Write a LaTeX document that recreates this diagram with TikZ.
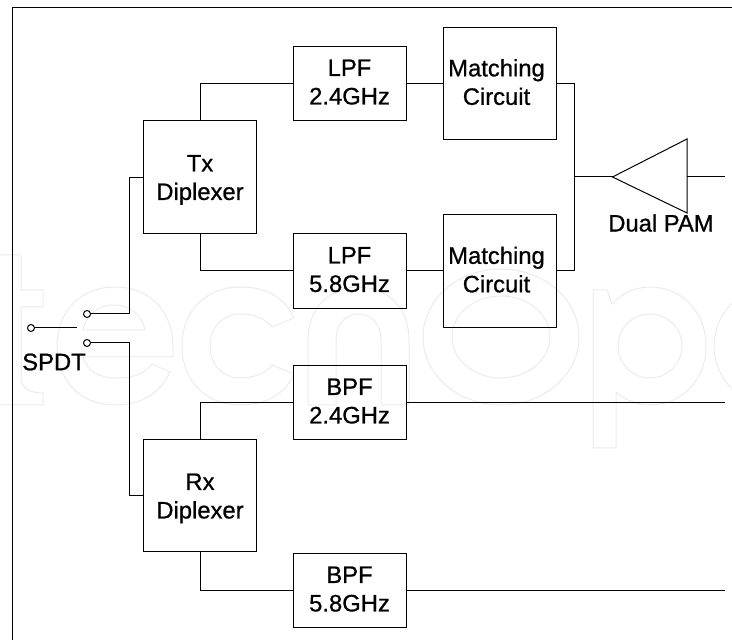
\documentclass[tikz,border=0pt]{standalone}
\usepackage{fontspec}
\setmainfont[FakeBold=0.8]{Liberation Sans}
\tikzset{
    blockbox/.style={draw,minimum width=113pt,inner sep=0pt,align=center},
    filterbox/.style={blockbox,minimum height=74.5pt,text depth=3pt},
    matchbox/.style={blockbox,minimum height=112.5pt,text depth=3pt},
    diplexbox/.style={blockbox,minimum height=113pt,text depth=-4pt},
    swpin/.style={draw,circle,minimum size=7pt,inner sep=0pt},
    ghost/.style={draw=black!8,line width=1pt}
}
\begin{document}
\begin{tikzpicture}[x=1pt,y=1pt,line width=1pt,
        every node/.append style={font=\fontsize{23.8}{28.5}\selectfont}]
        \useasboundingbox (0,0) rectangle (732,640);
        % faint lettering behind the circuit
        \begin{scope}
        \clip (0,0) rectangle (732,640);
        \draw[ghost] (0,385) -- (21,385) -- (21,350) -- (43,350) -- (43,333) -- (21,333) -- (21,262) .. controls (21,252) and (30,247) .. (43,247) -- (43,235) -- (0,235);
        \draw[ghost] (173,283) -- (83,283) .. controls (87,268) and (100,262) .. (118,262) .. controls (135,262) and (145,267) .. (152,276) -- (170,268) .. controls (160,246) and (140,235) .. (115,235) .. controls (80,235) and (57,260) .. (57,294) .. controls (57,328) and (80,353) .. (115,353) .. controls (150,353) and (173,328) .. (173,294) -- cycle;
        \draw[ghost] (83,310) -- (145,310) .. controls (142,325) and (130,335) .. (114,335) .. controls (98,335) and (86,325) .. (83,310);
        \draw[ghost] (294,322) .. controls (285,343) and (265,353) .. (240,353) .. controls (205,353) and (182,328) .. (182,294) .. controls (182,260) and (205,235) .. (240,235) .. controls (265,235) and (285,245) .. (294,266) -- (272,275) .. controls (265,266) and (253,262) .. (240,262) .. controls (222,262) and (210,276) .. (210,294) .. controls (210,312) and (222,326) .. (240,326) .. controls (253,326) and (265,322) .. (272,313) -- cycle;
        \draw[ghost] (308,235) -- (308,300) .. controls (308,332) and (330,353) .. (358,353) .. controls (388,353) and (409,332) .. (409,300) -- (409,235) -- (381,235) -- (381,300) .. controls (381,315) and (372,326) .. (358,326) .. controls (345,326) and (336,315) .. (336,300) -- (336,235) -- cycle;
        \draw[ghost] (501,303) ellipse (78 and 68);
        \draw[ghost] (501,303) ellipse (49 and 41);
        \draw[ghost] (593,192) -- (593,350) -- (607,350) -- (612,336) .. controls (622,347) and (635,353) .. (650,353) .. controls (682,353) and (706,328) .. (706,294) .. controls (706,260) and (682,235) .. (650,235) .. controls (637,235) and (625,240) .. (616,248) -- (616,192) -- cycle;
        \draw[ghost] (650,294) ellipse (32 and 32);
        \draw[ghost] (772,294) ellipse (58 and 59);
        \end{scope}
        % frame
        \coordinate (framea) at (12,0);
        \coordinate (frameb) at (12,632);
        \coordinate (framec) at (732,632);
        \draw (framea) -- (frameb) -- (framec);
        % blocks
        \node[diplexbox] (tx) at (200,462.5) {Tx\\Diplexer};
        \node[diplexbox,minimum height=112pt] (rx) at (200,144) {Rx\\Diplexer};
        \node[filterbox] (lpfa) at (349.5,556.5) {LPF\\2.4GHz};
        \node[filterbox] (lpfb) at (349.5,369) {LPF\\5.8GHz};
        \node[filterbox] (bpfa) at (349.5,237.5) {BPF\\2.4GHz};
        \node[filterbox] (bpfb) at (349.5,49.5) {BPF\\5.8GHz};
        \node[matchbox] (mata) at (499.5,556.5) {Matching\hspace*{6pt}\\Circuit\hspace*{6pt}};
        \node[matchbox] (matb) at (499.5,369) {Matching\hspace*{6pt}\\Circuit\hspace*{6pt}};
        % switch
        \node[swpin] (swin) at (31,312) {};
        \node[swpin] (swtx) at (87,326) {};
        \node[swpin] (swrx) at (87,297) {};
        \coordinate (swarm) at (77,312);
        \coordinate (txbus) at (129,462.5);
        \coordinate (rxbus) at (129,144);
        \node (spdt) at (54,278) {SPDT};
        % amplifier
        \coordinate (pamtip) at (612.5,463);
        \coordinate (pamtop) at (687,501);
        \coordinate (pambot) at (687,427);
        \coordinate (pamout) at (687,463);
        \coordinate (pambus) at (574.5,463);
        \coordinate (outa) at (725,463);
        \coordinate (outb) at (725,237.5);
        \coordinate (outc) at (725,49.5);
        \node (pam) at (661,417) {Dual PAM};
        \draw (pamtip) -- (pamtop) -- (pambot) -- cycle;
        % connectors
        \draw (swin) -- (swarm);
        \draw (tx) -- (txbus) |- (swtx);
        \draw (rx) -- (rxbus) |- (swrx);
        \draw (tx.north) |- (lpfa);
        \draw (tx.south) |- (lpfb);
        \draw (rx.north) |- (bpfa);
        \draw (rx.south) |- (bpfb);
        \draw (lpfa) -- (mata);
        \draw (lpfb) -- (matb);
        \draw (mata) -| (pambus);
        \draw (matb) -| (pambus);
        \draw (pambus) -- (pamtip);
        \draw (pamout) -- (outa);
        \draw (bpfa) -- (outb);
        \draw (bpfb) -- (outc);
\end{tikzpicture}
\end{document}
